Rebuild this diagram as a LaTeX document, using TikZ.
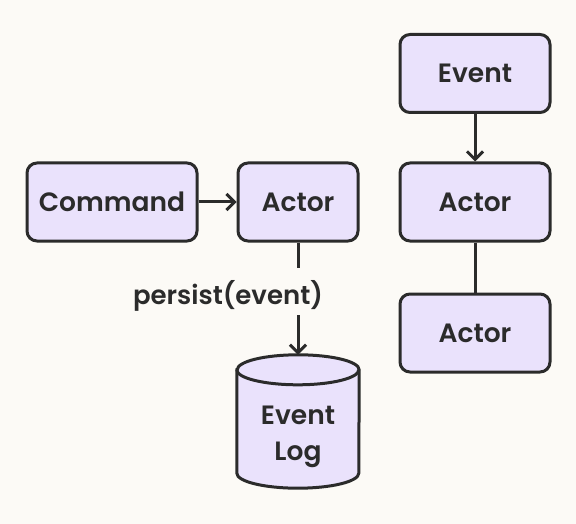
\documentclass[tikz,border=0pt]{standalone}
\usepackage{fontspec}
\setmainfont{Poppins}
\newfontfamily\pmed{Poppins SemiBold}
\usetikzlibrary{arrows.meta}
\definecolor{bg}{HTML}{FCFAF6}
\definecolor{boxfill}{HTML}{EAE2FC}
\definecolor{ink}{HTML}{2B2B2B}
\begin{document}
\begin{tikzpicture}[x=1pt,y=-1pt,
  box/.style={draw=ink, fill=boxfill, line width=3pt, rounded corners=10pt,
    minimum width=#1, minimum height=78pt, inner sep=0pt, text=ink,
    font=\pmed\fontsize{26.5}{30}\selectfont},
  box/.default=150pt,
  conn/.style={draw=ink, line width=3pt},
  arr/.style={conn, -{Straight Barb[length=8pt,width=16pt,line width=3pt]}},
  lbl/.style={text=ink, font=\pmed\fontsize{26}{28}\selectfont, inner sep=0pt}
]
\fill[bg] (0,0) rectangle (576,524);
\useasboundingbox (0,0) rectangle (576,524);

\node[box=170pt] (cmd) at (112,202) {\raisebox{-2pt}{Command}};
\node[box=120pt] (a1) at (298,202) {\raisebox{-2pt}{Actor}};
\node[box] (ev) at (475,73.5) {\raisebox{-2pt}{Event}};
\node[box] (a2) at (475,202) {\raisebox{-2pt}{Actor}};
\node[box] (a3) at (475,333) {\raisebox{-2pt}{Actor}};

% event log cylinder
\node[minimum width=122pt, minimum height=133pt, inner sep=0pt] (log) at (298,421.5) {};
\filldraw[draw=ink, fill=boxfill, line width=3pt]
  ([yshift=-15pt]log.north west) -- ([yshift=15pt]log.south west)
  arc[start angle=180, end angle=360, x radius=61pt, y radius=15pt]
  -- ([yshift=-15pt]log.north east)
  arc[start angle=0, end angle=180, x radius=61pt, y radius=15pt] -- cycle;
\draw[draw=ink, line width=3pt] ([yshift=-15pt]log.north west)
  arc[start angle=180, end angle=360, x radius=61pt, y radius=15pt];
\node[text=ink, align=center, font=\pmed\fontsize{26.5}{36}\selectfont] (logtxt) at (298,437) {Event\\Log};

\node[lbl] (pl) at (228,296) {persist(event)};

\draw[arr] (cmd) -- (a1);
\draw[arr] (ev) -- (a2);
\draw[conn] (a2) -- (a3);
\coordinate (g1) at (298,268);
\coordinate (g2) at (298,315);
\draw[conn] (a1) -- (g1);
\draw[arr] (g2) -- (log.north);
\end{tikzpicture}
\end{document}
